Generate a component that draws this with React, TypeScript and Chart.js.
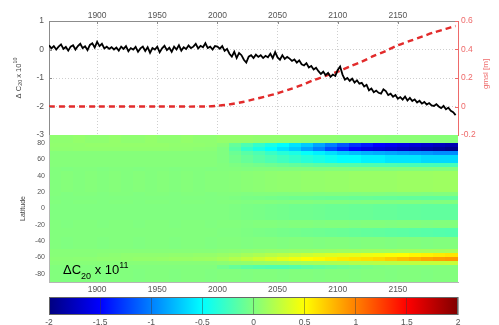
import React, { useEffect, useRef } from "react";
import { Chart, registerables } from "chart.js";

Chart.register(...registerables);

const FONT = "'Liberation Sans', Arial, Helvetica, sans-serif";

// ---------- axes ----------
const X_MIN = 1860;
const X_MAX = 2200;
const yearTicks = [1900, 1950, 2000, 2050, 2100, 2150];
const c20Ticks = [-3, -2, -1, 0, 1];
const gmslTicks = [-0.2, 0, 0.2, 0.4, 0.6];
const latTicks = [-80, -60, -40, -20, 0, 20, 40, 60, 80];
const colorTicks = [-2, -1.5, -1, -0.5, 0, 0.5, 1, 1.5, 2];

// ---------- top panel: delta C20 x 1e10 (every 2 years from 1860) ----------
const c20StartYear = 1860;
const c20YearStep = 2;
const c20Values = [
  0.15, 0.04, 0.12, 0.0, 0.1, 0.18, 0.02, 0.09, -0.04, 0.1, 0.15, 0.0, 0.12, 0.2, 0.05, 0.11, -0.02, 0.16, 0.22, 0.07,
  0.27, 0.12, 0.2, 0.04, 0.1, 0.02, 0.08, 0.0, 0.07, -0.04, 0.1, 0.02, 0.12, -0.06, 0.05, 0.0, 0.09, -0.08, 0.04, 0.1,
  -0.05, 0.08, -0.12, 0.05, 0.0, 0.1, -0.1, 0.04, 0.13, -0.02, 0.06, -0.08, 0.1, 0.0, 0.15, -0.04, 0.08, 0.02, 0.14, 0.05,
  0.1, 0.2, 0.04, 0.13, 0.08, 0.22, 0.05, 0.1, 0.0, 0.12, 0.1, 0.03, 0.12, -0.05, 0.02, -0.15, -0.25, -0.08, -0.3, -0.12,
  -0.2, -0.36, -0.46, -0.25, -0.2, -0.3, -0.18, -0.26, -0.2, -0.3, -0.22, -0.27, -0.15, -0.3, -0.09, -0.28, -0.36, -0.2, -0.33, -0.26,
  -0.32, -0.4, -0.35, -0.46, -0.38, -0.52, -0.56, -0.48, -0.63, -0.58, -0.7, -0.64, -0.76, -0.86, -0.78, -0.9, -0.82, -0.96, -0.88, -0.93,
  -0.72, -0.6, -0.88, -1.06, -1.0, -1.1, -1.02, -1.16, -1.08, -1.2, -1.17, -1.3, -1.24, -1.43, -1.37, -1.5, -1.44, -1.52, -1.55, -1.4,
  -1.46, -1.6, -1.55, -1.66, -1.6, -1.73, -1.67, -1.76, -1.65, -1.79, -1.7, -1.81, -1.75, -1.86, -1.8, -1.9, -1.84, -1.93, -1.88, -1.96,
  -1.98, -1.92, -2.0, -2.06, -1.98, -2.1, -2.04, -2.15, -2.2, -2.3,
];

// ---------- top panel: gmsl [m] ----------
const gmslYears = [1860, 1900, 1950, 1990, 2000, 2010, 2020, 2030, 2040, 2050, 2060, 2070, 2080, 2090, 2100, 2110, 2120, 2130, 2140, 2150, 2160, 2170, 2180, 2190, 2198];
const gmslValues = [0, 0, 0, 0, 0.005, 0.015, 0.03, 0.05, 0.07, 0.093, 0.12, 0.15, 0.185, 0.215, 0.244, 0.28, 0.315, 0.355, 0.39, 0.43, 0.46, 0.49, 0.52, 0.545, 0.565];

// ---------- heatmap: delta C20 x 1e11 by latitude band (5 deg) and decade ----------
const heatDecades = [
  1860, 1870, 1880, 1890, 1900, 1910, 1920, 1930, 1940, 1950, 1960, 1970, 1980, 1990,
  2000, 2010, 2020, 2030, 2040, 2050, 2060, 2070, 2080, 2090, 2100, 2110, 2120, 2130, 2140, 2150, 2160, 2170, 2180, 2190,
];
const heatDecadeSpan = 10;
const latBandHeight = 5;

const hmBase = [0.01, 0.0, 0.01, 0.01, 0.0, 0.01, 0.01, 0.0, 0.01, 0.01, 0.0, 0.01, 0.01, 0.0,
  0.01, 0.01, 0.0, 0.01, 0.01, 0.0, 0.01, 0.01, 0.0, 0.01, 0.01, 0.0, 0.01, 0.01, 0.0, 0.01, 0.01, 0.0, 0.01, 0.01];
const hmNorthCap = [0.06, 0.06, 0.08, 0.06, 0.06, 0.08, 0.06, 0.06, 0.08, 0.06, 0.06, 0.08, 0.06, 0.06,
  0.08, 0.08, 0.08, 0.07, 0.07, 0.07, 0.07, 0.06, 0.06, 0.06, 0.05, 0.05, 0.05, 0.05, 0.04, 0.04, 0.04, 0.03, 0.03, 0.03];
const hmBlueEdge = [0.07, 0.07, 0.07, 0.08, 0.08, 0.08, 0.08, 0.08, 0.08, 0.08, 0.07, 0.07, 0.07, 0.06,
  0.03, -0.1, -0.2, -0.3, -0.4, -0.5, -0.6, -0.7, -0.85, -1.0, -1.15, -1.3, -1.4, -1.5, -1.55, -1.6, -1.65, -1.7, -1.75, -1.8];
const hmBlueCore = [0.06, 0.06, 0.07, 0.07, 0.07, 0.07, 0.07, 0.07, 0.07, 0.07, 0.06, 0.06, 0.05, 0.04,
  0.0, -0.15, -0.3, -0.4, -0.5, -0.6, -0.7, -0.85, -1.0, -1.2, -1.35, -1.5, -1.6, -1.65, -1.7, -1.75, -1.8, -1.85, -1.9, -1.95];
const hmBlueMix = [0.02, 0.02, 0.02, 0.02, 0.02, 0.02, 0.02, 0.02, 0.02, 0.02, 0.02, 0.02, 0.02, 0.02,
  0.0, -0.08, -0.15, -0.2, -0.28, -0.35, -0.4, -0.48, -0.55, -0.62, -0.7, -0.75, -0.8, -0.82, -0.85, -0.88, -0.9, -0.92, -0.95, -0.95];
const hmCyan = [0.02, 0.02, 0.02, 0.02, 0.02, 0.02, 0.02, 0.02, 0.02, 0.02, 0.02, 0.02, 0.02, 0.02,
  0.0, -0.05, -0.1, -0.15, -0.2, -0.25, -0.3, -0.35, -0.4, -0.45, -0.5, -0.5, -0.55, -0.55, -0.6, -0.6, -0.6, -0.65, -0.65, -0.65];
const hmAqua = [0.02, 0.02, 0.02, 0.02, 0.02, 0.02, 0.02, 0.02, 0.02, 0.02, 0.02, 0.02, 0.02, 0.02,
  0.01, -0.01, -0.03, -0.05, -0.07, -0.09, -0.11, -0.13, -0.15, -0.16, -0.17, -0.18, -0.19, -0.2, -0.2, -0.21, -0.22, -0.22, -0.23, -0.23];
const hmMidYG = [0.01, 0.02, 0.01, 0.02, 0.01, 0.02, 0.01, 0.02, 0.01, 0.02, 0.01, 0.02, 0.01, 0.02,
  0.02, 0.03, 0.04, 0.05, 0.06, 0.07, 0.07, 0.08, 0.08, 0.09, 0.09, 0.1, 0.1, 0.1, 0.1, 0.11, 0.11, 0.11, 0.12, 0.12];
const hmMidAqua = [0.0, 0.0, 0.0, 0.0, 0.0, 0.0, 0.0, 0.0, 0.0, 0.0, 0.0, 0.0, 0.0, 0.0,
  0.0, -0.01, -0.02, -0.03, -0.04, -0.05, -0.06, -0.06, -0.07, -0.08, -0.08, -0.09, -0.09, -0.1, -0.1, -0.11, -0.11, -0.12, -0.12, -0.12];
const hmSouthAqua = [0.01, 0.01, 0.01, 0.01, 0.01, 0.01, 0.01, 0.01, 0.01, 0.01, 0.01, 0.01, 0.01, 0.01,
  0.0, 0.0, -0.01, -0.02, -0.03, -0.04, -0.05, -0.06, -0.07, -0.08, -0.09, -0.1, -0.11, -0.12, -0.13, -0.14, -0.15, -0.16, -0.17, -0.18];
const hmSubYellow = [0.03, 0.03, 0.03, 0.03, 0.03, 0.03, 0.03, 0.03, 0.03, 0.03, 0.03, 0.03, 0.03, 0.03,
  0.04, 0.05, 0.06, 0.07, 0.08, 0.08, 0.09, 0.09, 0.1, 0.1, 0.11, 0.11, 0.12, 0.12, 0.12, 0.13, 0.13, 0.14, 0.14, 0.15];
const hmYellowEdge = [0.03, 0.03, 0.03, 0.03, 0.04, 0.05, 0.06, 0.06, 0.06, 0.06, 0.07, 0.07, 0.08, 0.08,
  0.1, 0.12, 0.15, 0.18, 0.21, 0.24, 0.27, 0.3, 0.33, 0.36, 0.38, 0.4, 0.43, 0.45, 0.48, 0.5, 0.53, 0.55, 0.58, 0.6];
const hmYellowCore = [0.04, 0.04, 0.05, 0.05, 0.06, 0.06, 0.07, 0.08, 0.08, 0.09, 0.1, 0.1, 0.11, 0.12,
  0.15, 0.2, 0.25, 0.3, 0.35, 0.4, 0.45, 0.5, 0.52, 0.55, 0.58, 0.6, 0.62, 0.65, 0.7, 0.75, 0.8, 0.85, 0.88, 0.9];
const hmLowerYellow = [0.03, 0.03, 0.03, 0.03, 0.03, 0.03, 0.03, 0.03, 0.03, 0.03, 0.03, 0.03, 0.03, 0.03,
  0.05, 0.07, 0.08, 0.1, 0.11, 0.12, 0.14, 0.15, 0.16, 0.17, 0.18, 0.2, 0.21, 0.22, 0.23, 0.24, 0.25, 0.26, 0.27, 0.28];
const hmSouthDip = [0.01, 0.01, 0.01, 0.01, 0.01, 0.01, 0.01, 0.01, 0.01, 0.01, 0.01, 0.01, 0.01, 0.01,
  -0.05, -0.1, -0.14, -0.17, -0.19, -0.19, -0.17, -0.14, -0.11, -0.09, -0.07, -0.05, -0.03, -0.01, 0.0, 0.0, 0.01, 0.01, 0.01, 0.01];

const latBandTop = [90, 85, 80, 75, 70, 65, 60, 55, 50, 45, 40, 35, 30, 25, 20, 15, 10, 5, 0, -5, -10, -15, -20, -25, -30, -35, -40, -45, -50, -55, -60, -65, -70, -75, -80, -85];
const latBandRows = [
  hmNorthCap, hmNorthCap, hmBlueEdge, hmBlueCore, hmBlueMix, hmCyan, hmCyan, hmAqua, hmBase,
  hmMidYG, hmMidYG, hmMidYG, hmMidYG, hmMidYG, hmBase, hmMidAqua, hmBase, hmMidAqua, hmMidAqua,
  hmMidAqua, hmMidAqua, hmBase, hmBase, hmSouthAqua, hmSouthAqua, hmBase, hmBase, hmBase,
  hmSubYellow, hmYellowEdge, hmYellowCore, hmLowerYellow, hmSouthDip, hmBase, hmBase, hmBase,
];

const COLOR_MIN = -2;
const COLOR_MAX = 2;

function jet(v: number): string {
  let t = (v - COLOR_MIN) / (COLOR_MAX - COLOR_MIN);
  t = Math.max(0, Math.min(1, t));
  const c = (x: number) => Math.round(255 * Math.max(0, Math.min(1, x)));
  const r = c(1.5 - Math.abs(4 * t - 3));
  const g = c(1.5 - Math.abs(4 * t - 2));
  const b = c(1.5 - Math.abs(4 * t - 1));
  return `rgb(${r},${g},${b})`;
}

const tickFont = { family: FONT, size: 8.5 };
const TICK_COLOR = "#555";
const FRAME = "#8c8c8c";
const RED = "#e22b2b";
const RED_LIGHT = "#ee6a6a";

// remove Chart.js automatic label-overflow padding so plot areas sit where asked
const noVPad = (s: any) => {
  s.paddingTop = 0;
  s.paddingBottom = 0;
};
const noHPad = (s: any) => {
  s.paddingLeft = 0;
  s.paddingRight = 0;
};

function drawScripted(ctx: CanvasRenderingContext2D, parts: [string, number, number][], size: number, x0: number, y0: number) {
  // parts: [text, relativeSize, baselineShift]
  let total = 0;
  parts.forEach(([t, rs]) => {
    ctx.font = `${size * rs}px ${FONT}`;
    total += ctx.measureText(t).width;
  });
  let x = x0 - total / 2;
  parts.forEach(([t, rs, dy]) => {
    ctx.font = `${size * rs}px ${FONT}`;
    ctx.fillText(t, x, y0 + dy);
    x += ctx.measureText(t).width;
  });
}

const topDecor = {
  id: "topDecor",
  afterDraw(chart: any) {
    const { ctx, chartArea } = chart;
    const { left, right, top, bottom } = chartArea;
    const xs = chart.scales.x;
    const ys = chart.scales.y;
    const y2 = chart.scales.y2;
    ctx.save();
    ctx.lineWidth = 1;
    ctx.strokeStyle = FRAME;
    ctx.beginPath();
    yearTicks.forEach((yr) => {
      const px = Math.round(xs.getPixelForValue(yr)) + 0.5;
      ctx.moveTo(px, top);
      ctx.lineTo(px, top + 3);
    });
    c20Ticks.forEach((v) => {
      const py = Math.round(ys.getPixelForValue(v)) + 0.5;
      ctx.moveTo(left, py);
      ctx.lineTo(left + 3, py);
    });
    ctx.stroke();
    ctx.strokeStyle = RED_LIGHT;
    ctx.beginPath();
    gmslTicks.forEach((v) => {
      const py = Math.round(y2.getPixelForValue(v)) + 0.5;
      ctx.moveTo(right - 3, py);
      ctx.lineTo(right, py);
    });
    ctx.stroke();

    // left title: Δ C20 x 10^10
    ctx.translate(left - 30, (top + bottom) / 2);
    ctx.rotate(-Math.PI / 2);
    ctx.fillStyle = "#444";
    ctx.textAlign = "left";
    ctx.textBaseline = "middle";
    drawScripted(
      ctx,
      [
        ["\u0394 C", 1, 0],
        ["20", 0.72, 2],
        [" x 10", 1, 0],
        ["10", 0.72, -3],
      ],
      7.5,
      0,
      0
    );
    ctx.restore();

    // right title
    ctx.save();
    ctx.translate(right + 28, (top + bottom) / 2 - 4);
    ctx.rotate(-Math.PI / 2);
    ctx.font = `8px ${FONT}`;
    ctx.fillStyle = RED_LIGHT;
    ctx.textAlign = "center";
    ctx.textBaseline = "middle";
    ctx.fillText("gmsl [m]", 0, 0);
    ctx.restore();
  },
};

const heatmapPlugin = {
  id: "heatmapCells",
  beforeDraw(chart: any) {
    const { ctx, chartArea } = chart;
    const xs = chart.scales.x;
    const ys = chart.scales.y;
    ctx.save();
    ctx.beginPath();
    ctx.rect(chartArea.left, chartArea.top, chartArea.right - chartArea.left, chartArea.bottom - chartArea.top);
    ctx.clip();
    latBandTop.forEach((latTop, r) => {
      const row = latBandRows[r];
      const yA = Math.floor(ys.getPixelForValue(latTop));
      const yB = Math.ceil(ys.getPixelForValue(latTop - latBandHeight));
      heatDecades.forEach((yr, c) => {
        const xA = Math.floor(xs.getPixelForValue(yr));
        const xB = Math.ceil(xs.getPixelForValue(yr + heatDecadeSpan));
        ctx.fillStyle = jet(row[c]);
        ctx.fillRect(xA, yA, xB - xA, yB - yA);
      });
    });
    ctx.restore();
  },
  afterDraw(chart: any) {
    const { ctx, chartArea } = chart;
    ctx.save();
    let x = chartArea.left + 14;
    const base = chartArea.bottom - 8;
    ctx.fillStyle = "#000";
    ctx.textBaseline = "alphabetic";
    ctx.textAlign = "left";
    const big = `13px ${FONT}`;
    const small = `9px ${FONT}`;
    ctx.font = big;
    ctx.fillText("\u0394C", x, base);
    x += ctx.measureText("\u0394C").width;
    ctx.font = small;
    ctx.fillText("20", x, base + 5);
    x += ctx.measureText("20").width;
    ctx.font = big;
    ctx.fillText(" x 10", x, base);
    x += ctx.measureText(" x 10").width;
    ctx.font = small;
    ctx.fillText("11", x, base - 6);

    ctx.translate(chartArea.left - 26, (chartArea.top + chartArea.bottom) / 2);
    ctx.rotate(-Math.PI / 2);
    ctx.font = `7px ${FONT}`;
    ctx.fillStyle = "#444";
    ctx.textAlign = "center";
    ctx.textBaseline = "middle";
    ctx.fillText("Latitude", 0, 0);
    ctx.restore();
  },
};

const colorbarPlugin = {
  id: "colorbarFill",
  beforeDraw(chart: any) {
    const { ctx, chartArea } = chart;
    const xs = chart.scales.x;
    const grad = ctx.createLinearGradient(chartArea.left, 0, chartArea.right, 0);
    const steps = 64;
    for (let i = 0; i <= steps; i++) {
      const v = COLOR_MIN + ((COLOR_MAX - COLOR_MIN) * i) / steps;
      const pos = (xs.getPixelForValue(v) - chartArea.left) / (chartArea.right - chartArea.left);
      grad.addColorStop(Math.max(0, Math.min(1, pos)), jet(v));
    }
    ctx.save();
    ctx.fillStyle = grad;
    ctx.fillRect(chartArea.left, chartArea.top, chartArea.right - chartArea.left, chartArea.bottom - chartArea.top);
    ctx.restore();
  },
  afterDraw(chart: any) {
    const { ctx, chartArea } = chart;
    ctx.save();
    ctx.strokeStyle = "#666";
    ctx.lineWidth = 1;
    ctx.strokeRect(chartArea.left + 0.5, chartArea.top + 0.5, chartArea.right - chartArea.left - 1, chartArea.bottom - chartArea.top - 1);
    ctx.restore();
  },
};

export default function App() {
  const topRef = useRef<HTMLCanvasElement>(null);
  const heatRef = useRef<HTMLCanvasElement>(null);
  const barRef = useRef<HTMLCanvasElement>(null);

  useEffect(() => {
    const charts: Chart[] = [];

    const c20Data = c20Values.map((v, i) => ({ x: c20StartYear + i * c20YearStep, y: v }));
    const gmslData = gmslYears.map((yr, i) => ({ x: yr, y: gmslValues[i] }));

    charts.push(
      new Chart(topRef.current!, {
        type: "line",
        data: {
          datasets: [
            {
              data: c20Data,
              borderColor: "#000",
              borderWidth: 1.8,
              pointRadius: 0,
              tension: 0,
              xAxisID: "x",
              yAxisID: "y",
            },
            {
              data: gmslData,
              borderColor: RED,
              borderWidth: 2.4,
              borderDash: [6, 4],
              pointRadius: 0,
              tension: 0.3,
              xAxisID: "x",
              yAxisID: "y2",
            },
          ],
        },
        options: {
          animation: false,
          responsive: false,
          maintainAspectRatio: false,
          events: [],
          layout: { padding: { top: 0, bottom: 7, left: 0, right: 0 } },
          plugins: { legend: { display: false }, tooltip: { enabled: false } },
          scales: {
            x: {
              type: "linear",
              position: "top",
              min: X_MIN,
              max: X_MAX,
              afterBuildTicks: (s: any) => {
                s.ticks = yearTicks.map((v) => ({ value: v }));
              },
              afterFit: (s: any) => {
                s.height = 21;
                noHPad(s);
              },
              ticks: { font: tickFont, color: TICK_COLOR, padding: 0, maxRotation: 0, autoSkip: false, callback: (v: any) => String(v) },
              grid: { color: "#cfcfcf", drawTicks: false },
              border: { color: FRAME, dash: [1, 2] },
            },
            y: {
              type: "linear",
              position: "left",
              min: -3,
              max: 1,
              afterBuildTicks: (s: any) => {
                s.ticks = c20Ticks.map((v) => ({ value: v }));
              },
              afterFit: (s: any) => {
                s.width = 49;
                noVPad(s);
              },
              ticks: { font: tickFont, color: TICK_COLOR, padding: 5, callback: (v: any) => String(v) },
              grid: { color: "#cfcfcf", drawTicks: false },
              border: { color: FRAME, dash: [1, 2] },
            },
            y2: {
              type: "linear",
              position: "right",
              min: -0.2,
              max: 0.6,
              afterBuildTicks: (s: any) => {
                s.ticks = gmslTicks.map((v) => ({ value: v }));
              },
              afterFit: (s: any) => {
                s.width = 41;
                noVPad(s);
              },
              ticks: { font: tickFont, color: RED_LIGHT, padding: 3, callback: (v: any) => String(Math.round(v * 10) / 10) },
              grid: { display: false, drawTicks: false },
              border: { color: RED_LIGHT },
            },
          },
        },
        plugins: [topDecor],
      })
    );

    charts.push(
      new Chart(heatRef.current!, {
        type: "scatter",
        data: { datasets: [{ data: [] }] },
        options: {
          animation: false,
          responsive: false,
          maintainAspectRatio: false,
          events: [],
          layout: { padding: { top: 0, bottom: 0, left: 0, right: 41 } },
          plugins: { legend: { display: false }, tooltip: { enabled: false } },
          scales: {
            x: {
              type: "linear",
              position: "bottom",
              min: X_MIN,
              max: X_MAX,
              afterBuildTicks: (s: any) => {
                s.ticks = yearTicks.map((v) => ({ value: v }));
              },
              afterFit: (s: any) => {
                s.height = 13;
                noHPad(s);
              },
              ticks: { font: tickFont, color: TICK_COLOR, padding: 3, maxRotation: 0, autoSkip: false, callback: (v: any) => String(v) },
              grid: { display: false, drawTicks: false },
              border: { color: "#b5b5b5" },
            },
            y: {
              type: "linear",
              position: "left",
              min: -90,
              max: 90,
              afterBuildTicks: (s: any) => {
                s.ticks = latTicks.map((v) => ({ value: v }));
              },
              afterFit: (s: any) => {
                s.width = 49;
                noVPad(s);
              },
              ticks: { font: { family: FONT, size: 7 }, color: TICK_COLOR, padding: 4, autoSkip: false, callback: (v: any) => String(v) },
              grid: { display: false, drawTicks: false },
              border: { color: "#b5b5b5" },
            },
          },
        },
        plugins: [heatmapPlugin],
      })
    );

    charts.push(
      new Chart(barRef.current!, {
        type: "scatter",
        data: { datasets: [{ data: [] }] },
        options: {
          animation: false,
          responsive: false,
          maintainAspectRatio: false,
          events: [],
          layout: { padding: { top: 2, bottom: 0, left: 49, right: 41 } },
          plugins: { legend: { display: false }, tooltip: { enabled: false } },
          scales: {
            x: {
              type: "linear",
              position: "bottom",
              min: COLOR_MIN,
              max: COLOR_MAX,
              afterBuildTicks: (s: any) => {
                s.ticks = colorTicks.map((v) => ({ value: v }));
              },
              afterFit: (s: any) => {
                s.height = 10;
                noHPad(s);
              },
              ticks: { font: tickFont, color: TICK_COLOR, padding: 3, maxRotation: 0, autoSkip: false, callback: (v: any) => String(v) },
              grid: { color: "rgba(60,60,60,0.45)", drawTicks: false },
              border: { display: false },
            },
            y: { display: false, min: 0, max: 1 },
          },
        },
        plugins: [colorbarPlugin],
      })
    );

    return () => charts.forEach((c) => c.destroy());
  }, []);

  const base: React.CSSProperties = { position: "absolute", left: 0, display: "block" };
  return (
    <div style={{ position: "absolute", left: 0, top: 0, width: 499, height: 325, background: "#fff", overflow: "hidden" }}>
      <canvas ref={topRef} width={499} height={142} style={{ ...base, top: 0, width: 499, height: 142 }} />
      <canvas ref={heatRef} width={499} height={160} style={{ ...base, top: 135, width: 499, height: 160 }} />
      <canvas ref={barRef} width={499} height={30} style={{ ...base, top: 295, width: 499, height: 30 }} />
    </div>
  );
}
